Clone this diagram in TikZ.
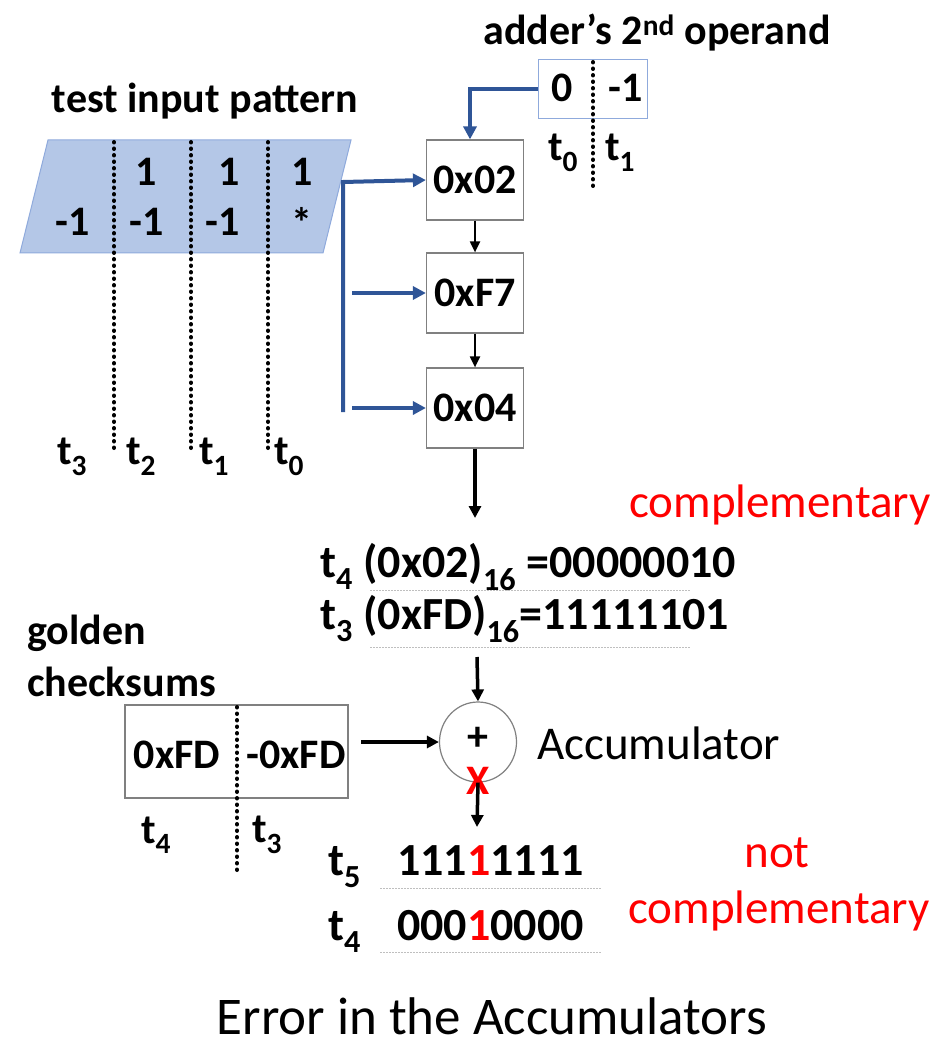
\documentclass[tikz,border=0pt]{standalone}
\usepackage{fontspec}
\setmainfont{Carlito}
\usepackage{xcolor}
\usetikzlibrary{shapes.geometric, arrows.meta, positioning}
\definecolor{pattblue}{HTML}{B4C7E7}
\definecolor{linkblue}{HTML}{2F5597}
\definecolor{edgeblue}{HTML}{8FAADC}
\newcommand{\tsb}[1]{t\textsubscript{#1}}
\tikzset{
  lbl/.style={font=\bfseries\fontsize{42}{48}\selectfont, inner sep=0pt},
  rowlbl/.style={font=\bfseries\fontsize{46}{52}\selectfont, inner sep=0pt, anchor=base west},
  plain/.style={font=\fontsize{47}{54}\selectfont, inner sep=0pt},
  regbox/.style={draw=gray, line width=1.2pt, minimum width=97pt, minimum height=80pt, font=\bfseries\fontsize{42}{48}\selectfont},
  tline/.style={black, line width=4pt, line cap=round, dash pattern=on 0.5pt off 6pt},
  uline/.style={gray!50, line width=0.8pt, dash pattern=on 1.5pt off 1.5pt},
  feed/.style={linkblue, line width=4pt, -{Triangle[length=13pt,width=13pt]}},
  blk/.style={black, line width=2pt, -{Triangle[length=11pt,width=10pt]}},
  blkthick/.style={black, line width=3.5pt, -{Triangle[length=12pt,width=12pt]}}
}
\begin{document}
\begin{tikzpicture}[x=1pt, y=-1pt]
  \useasboundingbox (0,0) rectangle (951,1048);
  % test input pattern
  \node[lbl] (pattT) at (205,101) {test input pattern};
  \draw[edgeblue, line width=1pt, fill=pattblue] (48,140) -- (351,140) -- (323,253) -- (20,253) -- cycle;
  \foreach \x in {114,191,268} \draw[tline] (\x,142) -- (\x,452);
  \node[lbl] (p21) at (146,172) {1};
  \node[lbl] (p11) at (229,172) {1};
  \node[lbl] (p01) at (302,172) {1};
  \node[lbl] (p3m) at (73,222) {-1};
  \node[lbl] (p2m) at (147,222) {-1};
  \node[lbl] (p1m) at (223,222) {-1};
  \node[lbl] (p0s) at (302,222) {*};
  \node[lbl] (pt3) at (72,457) {\tsb{3}};
  \node[lbl] (pt2) at (141,457) {\tsb{2}};
  \node[lbl] (pt1) at (214,457) {\tsb{1}};
  \node[lbl] (pt0) at (289,457) {\tsb{0}};
  % adder's 2nd operand
  \node[lbl] (opT) at (657,33) {adder’s 2\textsuperscript{nd} operand};
  \node[draw=edgeblue, line width=1pt, minimum width=109pt, minimum height=59pt] (op) at (592.5,89.5) {};
  \node[lbl] (op0) at (562,88) {0};
  \node[lbl] (op1) at (626,88) {-1};
  \draw[tline] (593,62) -- (593,191);
  \node[lbl] (ot0) at (563,153) {\tsb{0}};
  \node[lbl] (ot1) at (620,153) {\tsb{1}};
  % registers
  \node[regbox] (r02) at (475,180) {0x02};
  \node[regbox] (rF7) at (475,293) {0xF7};
  \node[regbox] (r04) at (475,408) {0x04};
  \draw[blk] (r02) -- (rF7);
  \draw[blk] (rF7) -- (r04);
  \coordinate (busT) at (343,182);
  \coordinate (busB) at (343,412);
  \coordinate (tapF7) at (352,293);
  \coordinate (tap04) at (352,408);
  \draw[feed] (busB) -- (busT) -- (r02.west);
  \draw[feed] (tapF7) -- (rF7.west);
  \draw[feed] (tap04) -- (r04.west);
  \draw[feed] (op.west) -| ([xshift=-5pt]r02.north);
  \coordinate (outB) at (475,518);
  \draw[blkthick] (r04) -- (outB);
  % checksum words
  \node[plain, text=red] (comp1) at (780,505) {complementary};
  \node[rowlbl] (w4) at (320,577) {\tsb{4} (0x02)\textsubscript{16} =00000010};
  \node[rowlbl] (w3) at (320,629) {\tsb{3} (0xFD)\textsubscript{16}=11111101};
  \draw[uline] (370,590) -- (690,590);
  \draw[uline] (370,647) -- (690,647);
  % accumulator
  \node[ellipse, draw=gray, line width=1.2pt, minimum width=77pt, minimum height=80pt] (acc) at (478,742) {};
  \node[lbl] (plus) at (478,739) {+};
  \node[plain, anchor=west] (accL) at (537,743) {Accumulator};
  \coordinate (inT) at (477,657);
  \draw[blkthick] (inT) -- (acc.north);
  \node[font=\bfseries\fontsize{42}{48}\selectfont, text=red, inner sep=0pt] (err) at (478,781) {X};
  \coordinate (sumB) at (477,827);
  \draw[blkthick] (acc.south) -- (sumB);
  % golden checksums
  \node[lbl, anchor=west] (goldA) at (27,633) {golden};
  \node[lbl, anchor=west] (goldB) at (27,682) {checksums};
  \node[draw=gray, line width=1.2pt, minimum width=223pt, minimum height=93pt] (gold) at (236.5,751.5) {};
  \draw[tline] (237,707) -- (237,872);
  \node[lbl] (g4) at (177,755) {0xFD};
  \node[lbl] (g3) at (296,755) {-0xFD};
  \node[lbl] (gt4) at (156,835) {\tsb{4}};
  \node[lbl] (gt3) at (267,835) {\tsb{3}};
  \coordinate (goldOut) at (361,742);
  \draw[blkthick] (goldOut) -- (acc.west);
  % result words
  \node[rowlbl] (s5) at (328,875) {\tsb{5}};
  \node[rowlbl] (v5) at (397,875) {111\textcolor{red}{1}1111};
  \node[rowlbl] (s4) at (328,940) {\tsb{4}};
  \node[rowlbl] (v4) at (397,940) {000\textcolor{red}{1}0000};
  \draw[uline] (380,888) -- (602,888);
  \draw[uline] (380,952) -- (602,952);
  \node[plain, text=red] (notA) at (777,853) {not};
  \node[plain, text=red] (notB) at (779,911) {complementary};
  \node[font=\fontsize{53}{60}\selectfont, inner sep=0pt] (title) at (492,1016) {Error in the Accumulators};
\end{tikzpicture}
\end{document}
